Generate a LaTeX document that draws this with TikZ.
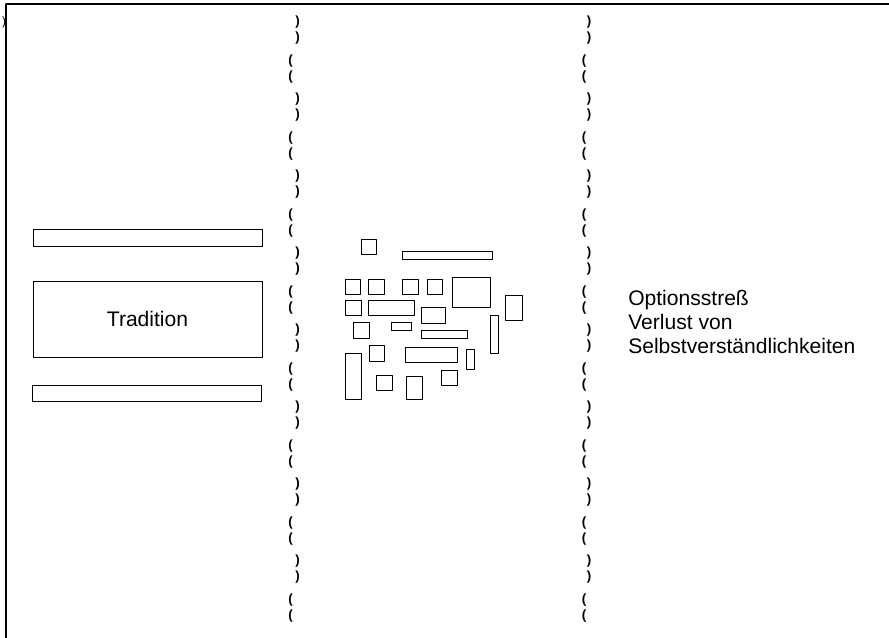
\documentclass[tikz,border=0pt]{standalone}
\usepackage{fontspec}
\setmainfont{Liberation Sans}

\begin{document}
\begin{tikzpicture}[x=0.75pt, y=-0.75pt, line cap=round, line join=round,
  bar/.style={draw, line width=0.75pt, inner sep=0pt, outer sep=0pt,
    minimum width=171.75pt, minimum height=12pt},
  block/.style={draw, line width=0.75pt},
  paren/.style={inner sep=0pt, font=\fontsize{10}{11}\selectfont\bfseries},
  label/.style={inner sep=0pt, font=\fontsize{15.8}{18}\selectfont}]

% Fix the page size
\useasboundingbox (0,0) rectangle (889,638);

% Frame (top and left edge only)
\draw[line width=0.9pt] (889,4) -- (6,4) -- (6,638);
\node[paren, font=\fontsize{9}{10}\selectfont] (corner) at (4,22) {)};

% Left part: tradition
\node[bar] (upper) at (147.5,238) {};
\node[bar, minimum height=57pt, label] (tradition) at (147.5,319) {Tradition};
\node[bar] (lower) at (146.5,393) {};

% Seams made of brackets
\foreach \k in {0,2,...,14} {
  \node[paren] (lc\k-1) at (297.5,{22.5+38.5*\k}) {)};
  \node[paren] (lc\k-2) at (297.5,{38.5+38.5*\k}) {)};
  \node[paren] (rc\k-1) at (589,{22.5+38.5*\k}) {)};
  \node[paren] (rc\k-2) at (589,{38.5+38.5*\k}) {)};
}
\foreach \k in {1,3,...,15} {
  \node[paren] (lo\k-1) at (290.5,{22.5+38.5*\k}) {(};
  \node[paren] (lo\k-2) at (290.5,{38.5+38.5*\k}) {(};
  \node[paren] (ro\k-1) at (584,{22.5+38.5*\k}) {(};
  \node[paren] (ro\k-2) at (584,{38.5+38.5*\k}) {(};
}

% Middle part: scattered pieces
\draw[block] (361,239) rectangle (376,254);
\draw[block] (402,251) rectangle (492,259);
\draw[block] (345,279) rectangle (360.5,294.5);
\draw[block] (368.5,279) rectangle (384,294.5);
\draw[block] (402.5,279) rectangle (418,294.5);
\draw[block] (427.5,279) rectangle (442,294.5);
\draw[block] (452,277) rectangle (490.5,307.5);
\draw[block] (505.5,295.5) rectangle (522.5,320.5);
\draw[block] (345.5,300.5) rectangle (361,315);
\draw[block] (368.5,300.5) rectangle (414.5,315);
\draw[block] (421.5,307.5) rectangle (445,323);
\draw[block] (490,315) rectangle (498,353.5);
\draw[block] (353.5,322.5) rectangle (369,338);
\draw[block] (391,322.5) rectangle (411.5,330.5);
\draw[block] (421.5,330.5) rectangle (467.5,338);
\draw[block] (369,345.5) rectangle (384,361);
\draw[block] (405.5,347.5) rectangle (457,362.5);
\draw[block] (466.5,349.5) rectangle (474,369.5);
\draw[block] (345.5,353.5) rectangle (361,399);
\draw[block] (441.5,370.5) rectangle (457,385.5);
\draw[block] (376.5,375.5) rectangle (392,390.5);
\draw[block] (406.5,376.5) rectangle (422,399);

% Right part: modern stress
\node[label, align=left, anchor=base west] (stress) at (628,353)
  {Optionsstreß\\Verlust von\\Selbstverständlichkeiten};

\end{tikzpicture}
\end{document}
